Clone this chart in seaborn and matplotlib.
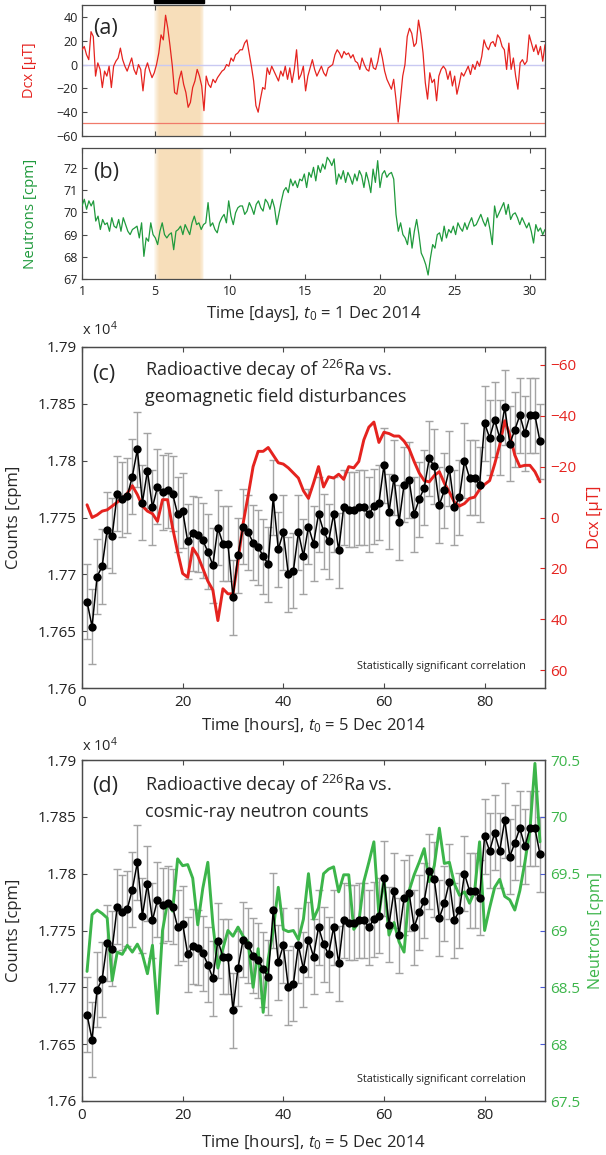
import numpy as np
import pandas as pd
import matplotlib
matplotlib.use("Agg")
import matplotlib.pyplot as plt
import seaborn as sns
from matplotlib.patches import Rectangle

# ---------------- data ----------------
# (a) geomagnetic Dcx through December 2014 (evenly sampled along the month)
dcx_month = [12.4, 15.2, 8.3, 4.1, 27.6, 23.5, -9.7, 1.4, -4.1, -19.3, -5.5, -9.7, -1.4, -19.3, -1.4, 2.8,
             5.5, 13.8, 4.1, -1.4, -5.5, 0, 5.5, -4.1, -8.3, 0, -4.1, -22.1, -4.1, 1.4, -5.5, -11, -6.9, 0,
             9.7, 24.9, 20.7, 41.4, 30.4, 15.2, -1.4, -23.5, -24.9, -12.4, -5.5, -16.6, -23.5, -35.9, -31.8,
             -19.3, -13.8, -4.1, -9.7, -18, -38.7, -9.7, -16.6, -19.3, -12.4, -15.2, -11, -8.3, -5.5, -4.1, 0,
             -1.4, 5.5, 2.8, 8.3, 9.7, 12.4, 12.4, 18, 20.7, 9.7, -1.4, -13.8, -34.5, -40, -29, -19.3, -20.7,
             -2.8, -8.3, -1.4, -5.5, -9.7, -13.8, -5.5, -9.7, -1.4, -12.4, -2.8, -15.2, -4.1, 12.4, -12.4,
             -8.3, -1.4, -22.1, -9.7, -2.8, 4.1, -4.1, -9.7, -5.5, -1.4, -6.9, -9.7, -2.8, -1.4, 0, 8.3, 12.4,
             9.7, 5.5, 11, 8.3, 9.7, 5.5, 8.3, 2.8, 1.4, -4.1, 5.5, 0, -4.1, -5.5, 5.5, -2.8, -4.1, 2.8, 13.8,
             5.5, -5.5, -12.4, -16.6, -20.7, -12.4, -29, -48.3, -29, -9.7, 0, 23.5, 30.4, 26.2, 15.2, 18,
             37.3, 26.2, 9.7, -15.2, -29, -6.9, -15.2, -12.4, -30.4, -9.7, -4.1, -1.4, -4.1, -12.4, -5.5, -18,
             -9.7, -24.9, -16.6, -6.9, -9.7, -5.5, -1.4, -8.3, 0, -4.1, 2.8, -1.4, 6.9, 20.7, 15.2, 12.4, 18,
             19.3, 15.2, 24.9, 22.1, 15.2, 12.4, -4.1, 18, -4.1, 5.5, -9.7, -20.7, 1.4, 4.1, 0, 2.8, 24.9, 18,
             11, 16.6, 8.3, 15.2, 2.8, 16.6]
dcx_min_line = -49.0
# (b) neutron monitor counts through December 2014
neutrons_month = [70.29, 70.59, 70.14, 70.52, 70.29, 70.52, 69.61, 69.83, 69.23, 69.68, 69.45, 69.53, 69.15,
                  69.76, 69.38, 69.30, 69.68, 69.15, 69.76, 69.45, 69.15, 69.0, 69.23, 69.30, 69.38, 68.85,
                  69.53, 68.02, 68.85, 68.70, 69.53, 69.0, 68.85, 68.55, 69.15, 69.53, 69.0, 68.85, 69.0, 69.08,
                  68.32, 69.15, 69.23, 69.38, 69.0, 69.45, 69.23, 69.0, 69.53, 69.83, 69.45, 69.53, 69.23,
                  69.45, 69.53, 70.44, 69.38, 69.53, 69.23, 69.08, 69.53, 69.76, 69.91, 69.53, 70.52, 69.83,
                  69.45, 69.98, 70.21, 70.29, 70.29, 69.91, 70.06, 70.44, 70.21, 69.91, 70.36, 70.52, 70.21,
                  70.06, 70.59, 70.44, 70.14, 70.59, 70.21, 69.45, 69.98, 70.52, 70.97, 71.12, 70.89, 71.5,
                  71.2, 71.42, 71.12, 71.5, 71.42, 71.73, 71.12, 71.8, 71.58, 72.03, 71.42, 72.11, 71.8, 72.18,
                  71.95, 72.48, 72.33, 72.11, 72.41, 71.27, 71.73, 71.5, 71.88, 71.35, 71.8, 71.58, 71.27,
                  71.73, 71.42, 71.88, 71.65, 71.12, 71.8, 71.42, 70.89, 71.95, 71.35, 72.33, 71.12, 71.73,
                  71.88, 71.58, 71.73, 71.8, 71.5, 69.91, 69.15, 69.53, 69.0, 68.85, 68.55, 69.30, 68.39,
                  69.15, 69.68, 69.0, 68.17, 67.94, 67.64, 67.18, 67.94, 68.55, 68.39, 69.0, 69.08, 68.70,
                  69.38, 68.85, 69.23, 69.08, 69.38, 69.0, 69.53, 69.30, 69.15, 69.53, 69.23, 69.53, 69.76,
                  69.38, 69.45, 69.68, 69.91, 69.61, 69.38, 69.76, 69.23, 68.55, 70.29, 69.76, 69.98, 70.21,
                  70.44, 69.91, 70.36, 69.68, 69.91, 69.98, 69.76, 69.45, 69.76, 69.53, 69.30, 69.53, 69.15,
                  68.62, 69.45, 69.15, 69.30, 69.0, 69.23]
month_span = (0.15, 31.0)
day_ticks = [0.15, 5, 10, 15, 20, 25, 30]
day_ticklabels = ['1', '5', '10', '15', '20', '25', '30']
band_days = (4.95, 8.3)

# (c)/(d) hourly data from t0 = 5 Dec 2014
hours = list(range(1, 92))
counts = [1.7676, 1.7654, 1.7698, 1.7707, 1.7739, 1.7734, 1.7771, 1.7766, 1.7769, 1.7786, 1.7810, 1.7763,
          1.7791, 1.7759, 1.7777, 1.7772, 1.7774, 1.7771, 1.7753, 1.7756, 1.7729, 1.7736, 1.7735, 1.7730,
          1.7720, 1.7708, 1.7741, 1.7727, 1.7727, 1.7680, 1.7717, 1.7742, 1.7737, 1.7728, 1.7724, 1.7716,
          1.7709, 1.7768, 1.7722, 1.7737, 1.7700, 1.7703, 1.7737, 1.7716, 1.7742, 1.7727, 1.7753, 1.7738,
          1.7729, 1.7753, 1.7721, 1.7759, 1.7757, 1.7757, 1.7759, 1.7759, 1.7753, 1.7760, 1.7763, 1.7796,
          1.7755, 1.7785, 1.7746, 1.7779, 1.7783, 1.7753, 1.7766, 1.7776, 1.7802, 1.7795, 1.7761, 1.7774,
          1.7793, 1.7759, 1.7768, 1.7800, 1.7785, 1.7785, 1.7779, 1.7833, 1.7820, 1.7836, 1.7820, 1.7847,
          1.7815, 1.7827, 1.7840, 1.7824, 1.7840, 1.7840, 1.7817]
count_err = 0.0033
dcx_hourly = [-5, 0, -1, -2.5, -3, -4.5, -6, -7.5, -9.5, -12.5, -9, -4.5, -2.5, -1.5, 1.5, -7, -7, 4, 13.5, 22,
              23.5, 12, 15, 20, 25, 28.5, 40.5, 28, 30, 30, 17, 2.5, -8.5, -20, -26, -26, -27.5, -24.5, -21.5,
              -21, -19.5, -17.5, -15.5, -10.5, -7.5, -13.5, -20, -12, -16, -15.5, -17, -15, -20, -19.5, -22,
              -30.5, -35.5, -37.5, -29.5, -33.5, -33, -32, -32, -30, -27, -22, -17.5, -14.5, -14, -16.5, -18,
              -13.5, -10, -6, -4.5, -5.5, -7.5, -8, -11, -13, -14.5, -21, -28.5, -38, -32.5, -24.5, -20, -20.5,
              -20.5, -18, -14]
neutrons_hourly = [68.64, 69.14, 69.18, 69.15, 69.11, 68.56, 68.81, 68.79, 68.87, 68.81, 68.88, 68.79, 68.62,
                   68.87, 68.27, 69.0, 69.25, 69.17, 69.63, 69.57, 69.58, 69.46, 69.05, 69.37, 69.6, 69.06,
                   68.67, 68.84, 69.0, 68.95, 69.03, 68.95, 68.9, 68.5, 68.84, 68.28, 68.75, 69.0, 69.38,
                   69.01, 68.99, 69.0, 68.92, 69.1, 69.5, 69.1, 69.2, 69.5, 69.54, 69.56, 69.34, 69.49, 69.49,
                   69.01, 69.07, 69.43, 69.6, 69.78, 69.13, 69.46, 68.96, 69.07, 68.9, 68.81, 69.35, 69.49,
                   69.6, 69.72, 69.43, 69.57, 69.9, 69.59, 69.6, 69.41, 69.31, 69.34, 69.24, 69.34, 69.78,
                   69.0, 69.2, 69.38, 69.45, 69.3, 69.27, 69.18, 69.35, 69.6, 69.88, 70.47, 69.78]

count_ticks = [1.76, 1.765, 1.77, 1.775, 1.78, 1.785, 1.79]
count_ticklabels = ['1.76', '1.765', '1.77', '1.775', '1.78', '1.785', '1.79']
hour_ticks = [0, 20, 40, 60, 80]
dcx_ticks = [-60, -40, -20, 0, 20, 40, 60]
dcx_ticklabels = ['\u221260', '\u221240', '\u221220', '0', '20', '40', '60']
neu_ticks = [67.5, 68, 68.5, 69, 69.5, 70, 70.5]
neu_ticklabels = ['67.5', '68', '68.5', '69', '69.5', '70', '70.5']

# ---------------- style ----------------
sns.set_theme(style="white")
plt.rcParams.update({
    'font.family': ['Open Sans', 'DejaVu Sans'],
    'mathtext.fontset': 'custom',
    'mathtext.rm': 'Open Sans',
    'mathtext.it': 'Open Sans:italic',
    'xtick.direction': 'in', 'ytick.direction': 'in',
    'axes.edgecolor': '#4a4a4a', 'axes.linewidth': 0.9,
    'xtick.color': '#4a4a4a', 'ytick.color': '#4a4a4a',
    'xtick.labelcolor': '#222222', 'ytick.labelcolor': '#222222',
    'xtick.major.size': 3.5, 'ytick.major.size': 3.5,
    'xtick.major.width': 0.8, 'ytick.major.width': 0.8,
})

RED = '#e5231f'
GREEN_A = '#1f9a3c'
GREEN_D = '#3cb54a'
W, H = 606, 1155
fig = plt.figure(figsize=(W / 100, H / 100), dpi=100)


def box(l, t, r, b):
    return [l / W, 1 - b / H, (r - l) / W, (b - t) / H]


axa = fig.add_axes(box(82, 5, 545, 136))
axb = fig.add_axes(box(82, 148, 545, 279))
axc = fig.add_axes(box(82, 347, 545, 688))
axd = fig.add_axes(box(82, 760, 545, 1101))

days_a = np.linspace(month_span[0], month_span[1], len(dcx_month))
days_b = np.linspace(month_span[0], month_span[1], len(neutrons_month))

# ---- (a)
for k in range(6):
    for ax in (axa, axb):
        ax.axvspan(band_days[0] + 0.06 * k, band_days[1] - 0.06 * k, color='#f2c27a', alpha=0.11, lw=0, zorder=0)
axa.axhline(0, color='#c9c9f2', lw=1.0, zorder=1)
axa.axhline(dcx_min_line, color='#f07a6a', lw=0.9, zorder=1)
sns.lineplot(x=days_a, y=dcx_month, ax=axa, color=RED, lw=0.9, zorder=3)
axa.set_xlim(*month_span)
axa.set_ylim(-60, 50)
axa.set_yticks([-60, -40, -20, 0, 20, 40])
axa.set_yticklabels(['\u221260', '\u221240', '\u221220', '0', '20', '40'])
axa.set_xticks(day_ticks)
axa.tick_params(axis='x', top=True, bottom=True, labelbottom=False)
axa.tick_params(axis='y', left=True, right=True, labelsize=9, pad=3)
axa.set_ylabel('Dcx [\u03bcT]', color=RED, fontsize=10.5)
axa.yaxis.set_label_coords(-0.097, 0.5)
axa.text(0.024, 0.82, '(a)', transform=axa.transAxes, fontsize=15.5, va='center', ha='left')
axa.add_patch(Rectangle((band_days[0], 1.015), band_days[1] - band_days[0], 0.08,
                        transform=axa.get_xaxis_transform(), color='black', clip_on=False, zorder=5))

# ---- (b)
sns.lineplot(x=days_b, y=neutrons_month, ax=axb, color=GREEN_A, lw=0.9, zorder=3)
axb.set_xlim(*month_span)
axb.set_ylim(67, 72.9)
axb.set_yticks([67, 68, 69, 70, 71, 72])
axb.set_xticks(day_ticks)
axb.set_xticklabels(day_ticklabels)
axb.tick_params(axis='x', top=True, bottom=True, labelsize=9, pad=4)
axb.tick_params(axis='y', left=True, right=True, labelsize=9, pad=3)
axb.set_ylabel('Neutrons [cpm]', color=GREEN_A, fontsize=10.8)
axb.yaxis.set_label_coords(-0.095, 0.5)
axb.set_xlabel(r'Time [days], $t_0$ = 1 Dec 2014', fontsize=12)
axb.xaxis.set_label_coords(0.5, -0.19)
axb.text(0.024, 0.81, '(b)', transform=axb.transAxes, fontsize=15.5, va='center', ha='left')


def counts_panel(ax, right_vals, right_color, right_lim, right_ticks, right_labels, right_tickcolor,
                 right_label, right_label_x, right_label_size, letter, letter_y, line1, line2, xlabel_y, exp_y):
    ax.errorbar(hours, counts, yerr=count_err, fmt='none', ecolor='#a3a3a3', elinewidth=1.0,
                capsize=3.0, capthick=1.0, zorder=2)
    ax.set_xlim(0, 92)
    ax.set_ylim(1.76, 1.79)
    ax.set_xticks(hour_ticks)
    ax.set_yticks(count_ticks)
    ax.set_yticklabels(count_ticklabels)
    ax.tick_params(axis='x', top=True, bottom=True, labelsize=11, pad=5)
    ax.tick_params(axis='y', left=True, right=False, labelsize=11, pad=4)
    ax.set_ylabel('Counts [cpm]', fontsize=12)
    ax.yaxis.set_label_coords(-0.13, 0.5)
    ax.set_xlabel(r'Time [hours], $t_0$ = 5 Dec 2014', fontsize=12)
    ax.xaxis.set_label_coords(0.5, xlabel_y)
    ax.text(0.0, exp_y, r'x 10$^4$', transform=ax.transAxes, fontsize=10.5, va='bottom', ha='left')

    ax2 = ax.twinx()
    sns.lineplot(x=hours, y=right_vals, ax=ax2, color=right_color, lw=2.1)
    ax2.set_ylim(*right_lim)
    ax2.set_yticks(right_ticks)
    ax2.set_yticklabels(right_labels)
    ax2.tick_params(axis='y', right=True, left=False, labelsize=11, colors=right_tickcolor,
                    labelcolor=right_color, pad=4)
    ax2.set_ylabel(right_label, color=right_color, fontsize=right_label_size, rotation=90)
    ax2.yaxis.set_label_coords(right_label_x, 0.5)
    ax2.grid(False)

    ax3 = ax.twinx()
    sns.lineplot(x=hours, y=counts, ax=ax3, color='black', lw=1.1, marker='o', markersize=6,
                 markeredgewidth=0, markerfacecolor='black')
    ax3.set_ylim(1.76, 1.79)
    ax3.axis('off')

    ax.text(0.022, letter_y, letter, transform=ax.transAxes, fontsize=15.5, va='center', ha='left')
    ax.text(0.136, line1[1], line1[0], transform=ax.transAxes, fontsize=13, va='center', ha='left')
    ax.text(0.136, line2[1], line2[0], transform=ax.transAxes, fontsize=13, va='center', ha='left')
    ax.text(0.958, 0.062, 'Statistically significant correlation', transform=ax.transAxes, fontsize=7.8,
            va='center', ha='right', color='#222222')
    return ax2


counts_panel(axc, dcx_hourly, RED, (67, -67), dcx_ticks, dcx_ticklabels, RED, 'Dcx [\u03bcT]', 1.09, 12,
             '(c)', 0.918, ('Radioactive decay of $^{226}$Ra vs.', 0.933), ('geomagnetic field disturbances', 0.853),
             -0.085, 1.022)
counts_panel(axd, neutrons_hourly, GREEN_D, (67.5, 70.5), neu_ticks, neu_ticklabels, '#4b5bd6',
             'Neutrons [cpm]', 1.093, 11.5,
             '(d)', 0.921, ('Radioactive decay of $^{226}$Ra vs.', 0.927), ('cosmic-ray neutron counts', 0.848),
             -0.097, 1.016)

fig.savefig('out.png', dpi=100, facecolor='white')
